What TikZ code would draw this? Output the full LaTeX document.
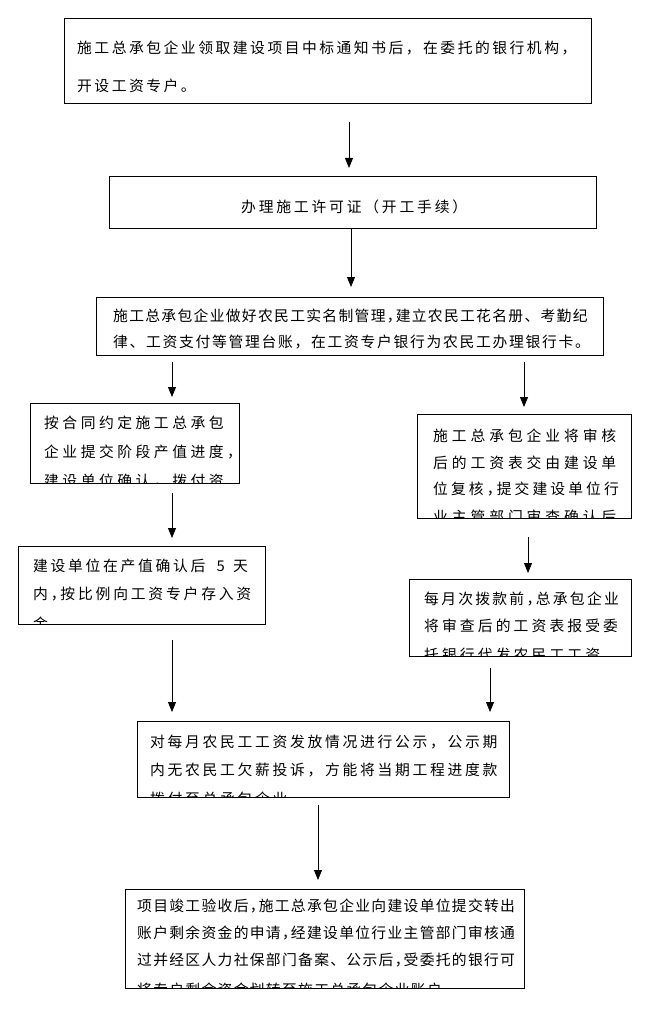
\documentclass[tikz,border=0pt]{standalone}
\usepackage{fontspec}
\newfontfamily\cjk{Noto Sans CJK SC}
\usetikzlibrary{arrows.meta}
\makeatletter
\def\my@end{\my@end@}
\def\halfc{\halfc@}
\def\pitched#1#2{\def\my@p{#1}\my@loop#2\my@end}
\def\my@loop#1{\ifx#1\my@end\expandafter\@gobble\else\expandafter\@firstofone\fi{\my@one{#1}\my@loop}}
\def\my@one#1{\ifx#1\halfc\makebox[0.55\dimexpr\my@p\relax][l]{，}\else\makebox[\my@p][l]{#1}\fi}
\makeatother
\begin{document}
\begin{tikzpicture}[x=1pt,y=-1pt,
  box/.style={draw=black,line width=0.8pt,anchor=north west,inner sep=0pt,outer sep=0pt},
  txt/.style={anchor=base west,inner sep=0pt,font=\cjk\fontsize{14.8pt}{14.8pt}\selectfont},
  arr/.style={line width=0.8pt,-{Triangle[width=8pt,length=10pt]}}]
\useasboundingbox (0,0) rectangle (660,1024);
\fill[white] (0,0) rectangle (660,1024);

% boxes
\node[box,minimum width=527pt,minimum height=85pt] (b1) at (64,18) {};
\node[box,minimum width=487pt,minimum height=52pt] (b2) at (109,176) {};
\node[box,minimum width=507pt,minimum height=58pt] (b3) at (96,297) {};
\node[box,minimum width=209pt,minimum height=80pt] (b4) at (30,403) {};
\node[box,minimum width=214pt,minimum height=104pt] (b5) at (417,414) {};
\node[box,minimum width=247pt,minimum height=78pt] (b6) at (18,546) {};
\node[box,minimum width=222pt,minimum height=77pt] (b7) at (409,579) {};
\node[box,minimum width=372pt,minimum height=76pt] (b8) at (137,721) {};
\node[box,minimum width=399pt,minimum height=99pt] (b9) at (125,889) {};

% texts
\node[txt] (t1a) at (77,53.6) {\pitched{17.3pt}{施工总承包企业领取建设项目中标通知书后，在委托的银行机构，}};
\node[txt] (t1b) at (77,91.6) {\pitched{17.3pt}{开设工资专户。}};

\node[txt] (t2) at (241,212.6) {\pitched{17.6pt}{办理施工许可证（开工手续）}};

\node[txt] (t3a) at (113,321.6) {\pitched{16.1pt}{施工总承包企业做好农民工实名制管理\halfc 建立农民工花名册、考勤纪}};
\node[txt] (t3b) at (113,347.6) {\pitched{16.5pt}{律、工资支付等管理台账，在工资专户银行为农民工办理银行卡。}};

\begin{scope}
\clip (b4.south west) rectangle (b4.north east);
\node[txt] (t4a) at (44,428.6) {\pitched{18.3pt}{按合同约定施工总承包}};
\node[txt] (t4b) at (44,457.6) {\pitched{18.3pt}{企业提交阶段产值进度，}};
\node[txt] (t4c) at (44,486.5) {\pitched{18.3pt}{建设单位确认，拨付资}};
\end{scope}

\begin{scope}
\clip (b5.south west) rectangle (b5.north east);
\node[txt] (t5a) at (433,441.6) {\pitched{18.7pt}{施工总承包企业将审核}};
\node[txt] (t5b) at (433,468.6) {\pitched{18.7pt}{后的工资表交由建设单}};
\node[txt] (t5c) at (433,494.6) {\pitched{17.9pt}{位复核\halfc 提交建设单位行}};
\node[txt] (t5d) at (433,522) {\pitched{18.7pt}{业主管部门审查确认后}};
\end{scope}

\begin{scope}
\clip (b6.south west) rectangle (b6.north east);
\node[txt] (t6a) at (33,571.6) {\pitched{17.5pt}{建设单位在产值确认后}\makebox[25pt][c]{5}\pitched{17.5pt}{天}};
\node[txt] (t6b) at (33,599.6) {\pitched{17.6pt}{内\halfc 按比例向工资专户存入资}};
\node[txt] (t6c) at (33,629) {\pitched{17.6pt}{金。}};
\end{scope}

\begin{scope}
\clip (b7.south west) rectangle (b7.north east);
\node[txt] (t7a) at (424,604.6) {\pitched{17.05pt}{每月次拨款前\halfc 总承包企业}};
\node[txt] (t7b) at (424,631.6) {\pitched{17.9pt}{将审查后的工资表报受委}};
\node[txt] (t7c) at (424,660) {\pitched{17.9pt}{托银行代发农民工工资}};
\end{scope}

\begin{scope}
\clip (b8.south west) rectangle (b8.north east);
\node[txt] (t8a) at (150,747.6) {\pitched{17.5pt}{对每月农民工工资发放情况进行公示，公示期}};
\node[txt] (t8b) at (150,775.6) {\pitched{17.5pt}{内无农民工欠薪投诉，方能将当期工程进度款}};
\node[txt] (t8c) at (150,804) {\pitched{17.5pt}{拨付至总承包企业}};
\end{scope}

\begin{scope}
\clip (b9.south west) rectangle (b9.north east);
\node[txt] (t9a) at (137,911.6) {\pitched{16.1pt}{项目竣工验收后\halfc 施工总承包企业向建设单位提交转出}};
\node[txt] (t9b) at (137,938.6) {\pitched{16.1pt}{账户剩余资金的申请\halfc 经建设单位行业主管部门审核通}};
\node[txt] (t9c) at (137,965.6) {\pitched{16.1pt}{过并经区人力社保部门备案、公示后\halfc 受委托的银行可}};
\node[txt] (t9d) at (137,995) {\pitched{16.1pt}{将专户剩余资金划转至施工总承包企业账户。}};
\end{scope}

% arrows
\draw[arr] ([xshift=21.5pt,yshift=-19pt]b1.south) -- ([xshift=-3.5pt,yshift=8pt]b2.north);
\draw[arr] ([xshift=-1.5pt,yshift=-1pt]b2.south) -- ([xshift=1.5pt,yshift=10pt]b3.north);
\draw[arr] ([xshift=-177.5pt,yshift=-7pt]b3.south) -- ([xshift=37.5pt,yshift=6pt]b4.north);
\draw[arr] ([xshift=174.5pt,yshift=-7pt]b3.south) -- ([xshift=0pt,yshift=7pt]b5.north);
\draw[arr] ([xshift=37.5pt,yshift=-10pt]b4.south) -- ([xshift=30.5pt,yshift=8pt]b6.north);
\draw[arr] ([xshift=4pt,yshift=-19pt]b5.south) -- ([xshift=8pt,yshift=6pt]b7.north);
\draw[arr] ([xshift=30.5pt,yshift=-16pt]b6.south) -- ([xshift=-151pt,yshift=9pt]b8.north);
\draw[arr] ([xshift=-30pt,yshift=-12pt]b7.south) -- ([xshift=167pt,yshift=9pt]b8.north);
\draw[arr] ([xshift=-5pt,yshift=-8pt]b8.south) -- ([xshift=-6.5pt,yshift=9pt]b9.north);
\end{tikzpicture}
\end{document}
